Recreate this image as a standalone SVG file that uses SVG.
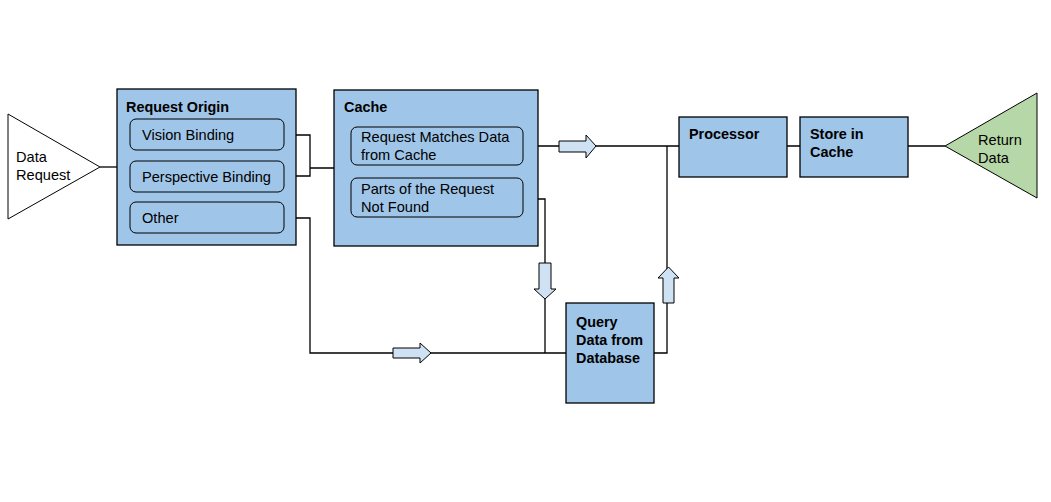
<svg xmlns="http://www.w3.org/2000/svg" width="1051" height="502" viewBox="0 0 1051 502">
<style>
.box{fill:#9fc5e8;stroke:#000;stroke-width:1.3}
.sub{fill:#9fc5e8;stroke:#000;stroke-width:1}
.blk{fill:#cfe2f3;stroke:#000;stroke-width:1}
.ln{fill:none;stroke:#000;stroke-width:1.3}
text{font-family:"Liberation Sans",Arial,sans-serif;font-size:14.6px;fill:#000}
.b{font-weight:bold;font-size:14.4px}
</style>
<rect width="1051" height="502" fill="#fff"/>
<g id="connectors">
<path class="ln" d="M100,167H117"/>
<path class="ln" d="M284,135H310V176H284M310,168H334"/>
<path class="ln" d="M284,218H310V353H566"/>
<path class="ln" d="M523,146H679"/>
<path class="ln" d="M523,199H545V353"/>
<path class="ln" d="M654,353H667V146"/>
<path class="ln" d="M787,146H800M908,146H945"/>
<path class="blk" d="M559,141H586V135L596,146L586,158V152H559Z"/>
<path class="blk" d="M539,263H551V289H556L545,299L534,289H539Z"/>
<path class="blk" d="M663,303V278H658L668.5,267L679,278H674V303Z"/>
<path class="blk" d="M393,348H420V343L431,353L420,363V358H393Z"/>
</g>
<g id="data-request">
<path d="M8,114L100,167L8,219Z" fill="#fff" stroke="#000" stroke-width="1"/>
<text x="16" y="162">Data</text>
<text x="16" y="180">Request</text>
</g>
<g id="request-origin">
<rect class="box" x="117" y="89" width="179" height="156"/>
<text class="b" x="126" y="112">Request Origin</text>
</g>
<g id="vision-binding">
<rect class="sub" x="130" y="119" width="154" height="31" rx="6"/>
<text x="142" y="140">Vision Binding</text>
</g>
<g id="perspective-binding">
<rect class="sub" x="130" y="161" width="154" height="31" rx="6"/>
<text x="142" y="182">Perspective Binding</text>
</g>
<g id="other">
<rect class="sub" x="130" y="202" width="154" height="31" rx="6"/>
<text x="142" y="223">Other</text>
</g>
<g id="cache">
<rect class="box" x="334" y="90" width="204" height="156"/>
<text class="b" x="344" y="112">Cache</text>
</g>
<g id="request-matches">
<rect class="sub" x="351" y="127" width="172" height="38" rx="6"/>
<text x="361" y="142">Request Matches Data</text>
<text x="361" y="160">from Cache</text>
</g>
<g id="parts-not-found">
<rect class="sub" x="351" y="178" width="172" height="39" rx="6"/>
<text x="361" y="194">Parts of the Request</text>
<text x="361" y="212">Not Found</text>
</g>
<g id="query-data">
<rect class="box" x="566" y="303" width="88" height="100"/>
<text class="b" x="576" y="327">Query</text>
<text class="b" x="576" y="345">Data from</text>
<text class="b" x="576" y="363">Database</text>
</g>
<g id="processor">
<rect class="box" x="679" y="117" width="108" height="60"/>
<text class="b" x="689" y="139">Processor</text>
</g>
<g id="store-in-cache">
<rect class="box" x="800" y="117" width="108" height="60"/>
<text class="b" x="810" y="139">Store in</text>
<text class="b" x="810" y="157">Cache</text>
</g>
<g id="return-data">
<path d="M945,146L1037,93V198Z" fill="#b6d7a8" stroke="#000" stroke-width="1"/>
<text x="978" y="145">Return</text>
<text x="978" y="163">Data</text>
</g>
</svg>
